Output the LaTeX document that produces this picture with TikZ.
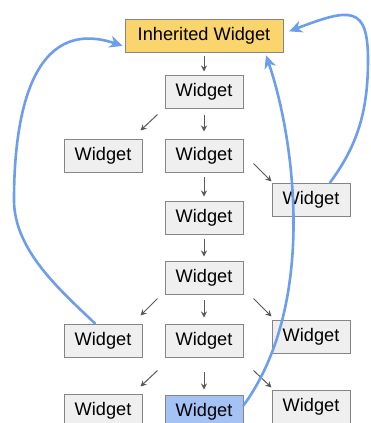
\documentclass[tikz,border=0pt]{standalone}
\usepackage{fontspec}
\setmainfont{Liberation Sans}
\usetikzlibrary{positioning,arrows.meta}
\definecolor{boxgray}{HTML}{EFEFEF}
\definecolor{edgegray}{HTML}{858585}
\definecolor{inhyellow}{HTML}{FAD46D}
\definecolor{selblue}{HTML}{A4C2F4}
\definecolor{linkblue}{HTML}{6D9EEB}
\tikzset{
  wbox/.style={rectangle, draw=edgegray, fill=boxgray, line width=1pt,
    minimum width=78pt, minimum height=33pt, inner sep=0pt},
  ibox/.style={wbox, fill=inhyellow, minimum width=158pt},
  flow/.style={draw=black!65, line width=1pt,
    -{Stealth[length=6pt,width=6pt]}},
  link/.style={draw=linkblue, line width=2.6pt, line cap=round,
    -{Stealth[length=13pt,width=12pt,inset=4pt]}}
}
\begin{document}
\begin{tikzpicture}[x=1pt,y=-1pt,font=\fontsize{18.2}{20}\selectfont]
    \useasboundingbox (0,0) rectangle (371,423);
    \node[ibox] (ih) at (204,35.5) {Inherited Widget};
    \node[wbox] (w1) [below=22pt of ih] {Widget};
    \node[wbox] (w2c) [below=30pt of w1] {Widget};
    \node[wbox] (w2l) [left=22pt of w2c] {Widget};
    \node[wbox] (w2r) [below right=10pt and 28pt of w2c] {Widget};
    \node[wbox] (w3) [below=28pt of w2c] {Widget};
    \node[wbox] (w4) [below=26pt of w3] {Widget};
    \node[wbox] (w5c) [below=29pt of w4] {Widget};
    \node[wbox] (w5l) [left=22pt of w5c] {Widget};
    \node[wbox] (w5r) [right=28pt of w5c, yshift=4pt] {Widget};
    \node[wbox, fill=selblue] (w6c) [below=37pt of w5c] {Widget};
    \node[wbox] (w6l) [left=22pt of w6c, yshift=1pt] {Widget};
    \node[wbox] (w6r) [right=28pt of w6c, yshift=5pt] {Widget};
    % straight down
    \draw[flow, shorten <=3pt, shorten >=3pt] (ih) -- (w1);
    \draw[flow, shorten <=6pt, shorten >=7pt] (w1) -- (w2c);
    \draw[flow, shorten <=4pt, shorten >=4pt] (w2c) -- (w3);
    \draw[flow, shorten <=4pt, shorten >=4pt] (w3) -- (w4);
    \draw[flow, shorten <=5pt, shorten >=6pt] (w4) -- (w5c);
    \draw[flow, shorten <=14pt, shorten >=5pt] (w5c) -- (w6c);
    % to the sides
    \draw[flow] ([shift={(-7,6)}]w1.south west) -- ([shift={(-2,-8)}]w2l.north east);
    \draw[flow] ([shift={(-7,4)}]w4.south west) -- ([shift={(-2,-8)}]w5l.north east);
    \draw[flow] ([shift={(-7,13)}]w5c.south west) -- ([shift={(-2,-7)}]w6l.north east);
    \draw[flow] ([shift={(10,-9)}]w2c.south east) -- ([shift={(0,-1)}]w2r.north west);
    \draw[flow] ([shift={(10,4)}]w4.south east) -- ([shift={(0,-3)}]w5r.north west);
    \draw[flow] ([shift={(10,13)}]w5c.south east) -- ([shift={(0,-2)}]w6r.north west);
    % lookups
    \draw[link, shorten >=2pt] ([xshift=-8pt]w5l.north)
        .. controls (60,290) and (14,250) .. (14,200)
        .. controls (14,120) and (30,15) .. ([yshift=-11pt]ih.west);
    \draw[link, shorten >=6pt] ([xshift=19pt]w2r.north)
        .. controls (358,145) and (368,110) .. (368,60)
        .. controls (368,5) and (350,8) .. ([yshift=2pt]ih.east);
    \draw[link, shorten >=3pt] ([yshift=6pt]w6c.east)
        .. controls (320,300) and (292,130) .. ([xshift=61pt]ih.south);
\end{tikzpicture}
\end{document}
